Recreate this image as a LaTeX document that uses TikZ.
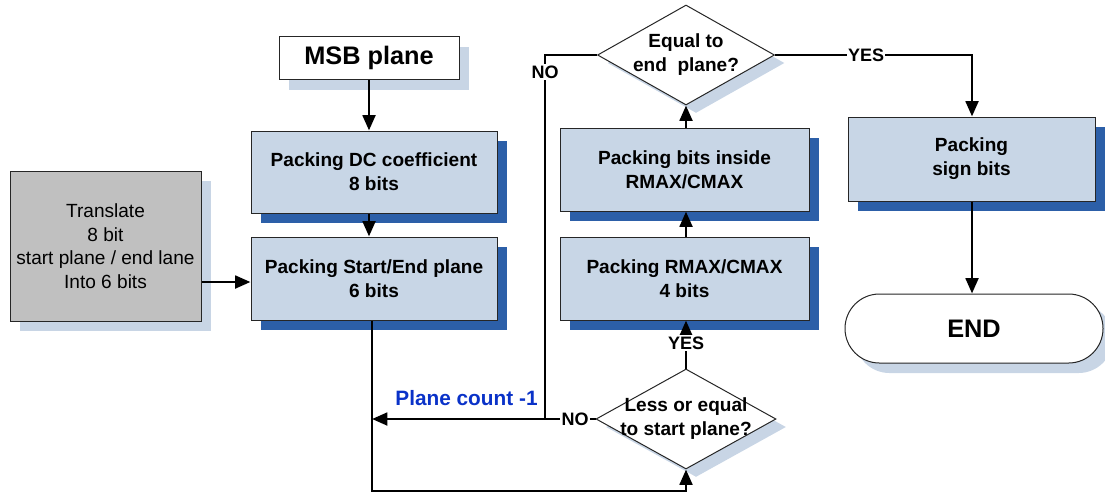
\documentclass[tikz,border=0pt]{standalone}
\usepackage{fontspec}
\setmainfont{Liberation Sans}
\usetikzlibrary{shapes.geometric,shadows,arrows.meta}
\definecolor{boxfill}{HTML}{C8D6E6}
\definecolor{shdark}{HTML}{2C5FA8}
\definecolor{shlight}{HTML}{C8D5E5}
\definecolor{greyfill}{HTML}{C0C0C0}
\definecolor{countblue}{HTML}{0A32C8}
\begin{document}
\begin{tikzpicture}[x=0.75pt,y=-0.75pt,
  base/.style={draw=black!85, line width=0.75pt, inner sep=0pt, align=center},
  darkshadow/.style={drop shadow={shadow xshift=7.5pt, shadow yshift=-7.5pt, fill=shdark, opacity=1}},
  lightshadow/.style={drop shadow={shadow xshift=7.5pt, shadow yshift=-7.5pt, fill=shlight, opacity=1}},
  diashadow/.style={drop shadow={shadow xshift=7.5pt, shadow yshift=-6pt, fill=shlight, opacity=1}},
  boxfont/.style={font=\fontsize{14.3}{18}\selectfont\bfseries},
  procbox/.style={base, boxfont, fill=boxfill, darkshadow},
  bigtext/.style={font=\fontsize{19}{22}\selectfont\bfseries},
  decision/.style={base, diamond, fill=white, diashadow},
  flag/.style={fill=white, inner sep=1pt, font=\fontsize{13.5}{15}\selectfont\bfseries},
  conn/.style={line width=2.1pt, -{Triangle[length=11.5pt,width=9.5pt]}},
  wire/.style={line width=2.1pt}
]
\useasboundingbox (0,0) rectangle (1105,494);

% boxes of the left column
\node[base, bigtext, fill=white, lightshadow, minimum width=135pt, minimum height=32.25pt]
  (msb) at (369,58) {MSB plane};
\node[procbox, minimum width=184.5pt, minimum height=61.5pt]
  (dc) at (374,172) {Packing DC coefficient\\8 bits};
\node[procbox, minimum width=184.5pt, minimum height=62.25pt]
  (se) at (374,278.5) {Packing Start/End plane\\6 bits};
\node[base, fill=greyfill, lightshadow, font=\fontsize{14.3}{17.6}\selectfont,
  minimum width=143.25pt, minimum height=112.5pt]
  (trans) at (105.5,246) {Translate\\8 bit\\start plane / end lane\\Into 6 bits};

% middle column
\node[procbox, minimum width=186.75pt, minimum height=62.25pt]
  (rmax) at (684.5,278.5) {Packing RMAX/CMAX\\4 bits};
\node[procbox, minimum width=186.75pt, minimum height=62.25pt]
  (inside) at (684.5,169.5) {Packing bits inside\\RMAX/CMAX};
\node[decision, minimum width=132.75pt, minimum height=75pt,
  label={[boxfont, align=center]center:{Equal to\\end~~plane?}}]
  (equal) at (686,55) {};
\node[decision, minimum width=135pt, minimum height=75pt,
  label={[boxfont, align=center]center:{Less or equal\\to start plane?}}]
  (less) at (686,419) {};

% right column
\node[procbox, minimum width=185.25pt, minimum height=63pt]
  (sign) at (971.5,159) {Packing\\sign bits};
\node[base, bigtext, fill=white, lightshadow, rounded corners=25.8pt,
  minimum width=193.5pt, minimum height=51.75pt]
  (endnode) at (974,328.5) {END};

% routing points
\coordinate (loopA) at (372,491);
\coordinate (loopB) at (686,491);
\coordinate (noturn) at (545,55);
\coordinate (nojoin) at (545,419);
\coordinate (yesturn) at (972,55);

% connectors
\draw[conn] (msb.south) -- (msb.south |- dc.north);
\draw[conn] (dc.south -| msb.south) -- (se.north -| msb.south);
\draw[conn] (trans.east |- 0,282) -- (se.west |- 0,282);
\draw[conn] (se.south -| loopA) -- (loopA) -- (loopB) -- (less.south);
\draw[conn] (less.north) -- (rmax.south -| less.north);
\draw[conn] (rmax.north -| less.north) -- (inside.south -| less.north);
\draw[conn] (inside.north -| less.north) -- (equal.south);
\draw[wire] (equal.west) -- (noturn) -- (nojoin);
\draw[conn] (less.west) -- (less.west -| loopA);
\draw[conn] (equal.east) -- (yesturn) -- (sign.north -| yesturn);
\draw[conn] (sign.south -| yesturn) -- (endnode.north -| yesturn);

% branch labels
\node[flag] (no1) at (545,72) {NO};
\node[flag] (no2) at (575,419) {NO};
\node[flag] (yes1) at (866,55) {YES};
\node[flag] (yes2) at (686,343) {YES};
\node[font=\fontsize{15.6}{18}\selectfont\bfseries, text=countblue]
  (count) at (466.5,398) {Plane count -1};
\end{tikzpicture}
\end{document}
